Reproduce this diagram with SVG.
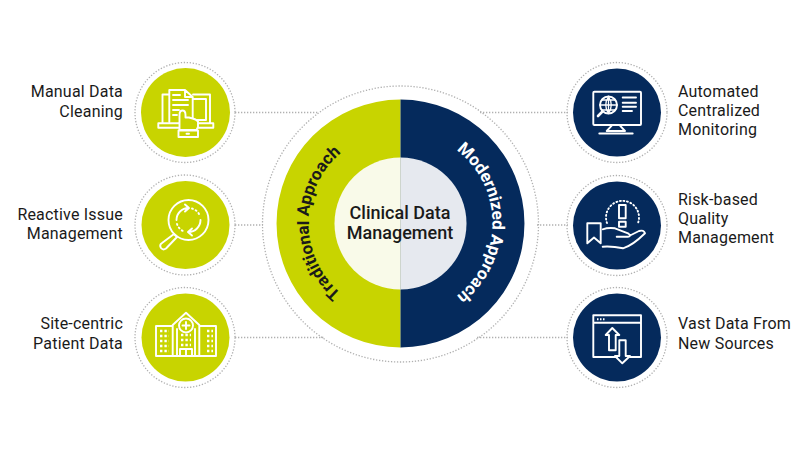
<svg xmlns="http://www.w3.org/2000/svg" width="800" height="450" viewBox="0 0 800 450">
<style>
text{font-family:Roboto,"Liberation Sans",Arial,sans-serif;fill:#1a1a1a}
.lbl{font-size:16px;letter-spacing:.2px}
.e{text-anchor:end}
.dot{fill:none;stroke:#b0b0b0;stroke-width:1.300;stroke-dasharray:1.300 1.700}
.ic{fill:none;stroke:#fff;stroke-width:1.900;stroke-linejoin:round;stroke-linecap:round}
.g{fill:#c8d400}.n{fill:#052a5c}
.arc{font-size:17px;font-weight:700;text-anchor:middle}
.c{font-size:18px;font-weight:500;text-anchor:middle}
</style>
<defs>
<path id="arcL" d="M400.500 315A92 92 0 0 1 400.500 131"/>
<path id="arcR" d="M400.500 131A92 92 0 0 1 400.500 315"/>
</defs>
<rect width="800" height="450" fill="#fff"/>
<g id="connectors" class="dot">
<path d="M235 112.500H318M235 225H263M235 337.500H325M480 112.500H568M537 225H568M477 337.500H568"/>
</g>
<g id="center">
<circle class="dot" cx="400.500" cy="224" r="138"/>
<path class="g" d="M400.500 99.500A124 124 0 0 0 400.500 347.500Z"/>
<path class="n" d="M400.500 99.500A124 124 0 0 1 400.500 347.500Z"/>
<path fill="#f9fae9" d="M400.500 157.500A66 66 0 0 0 400.500 289.500Z"/>
<path fill="#e6e9ef" d="M400.500 157.500A66 66 0 0 1 400.500 289.500Z"/>
<text class="arc"><textPath href="#arcL" startOffset="50%">Traditional Approach</textPath></text>
<text class="arc" style="fill:#fff"><textPath href="#arcR" startOffset="50%">Modernized Approach</textPath></text>
<text class="c" x="400" y="218.500">Clinical Data</text>
<text class="c" x="400" y="238.500">Management</text>
</g>
<g id="manual-data-cleaning">
<circle class="dot" cx="185" cy="112.500" r="50"/><circle class="g" cx="185.500" cy="112.500" r="44.500"/>
<g class="ic">
<path d="M169 94.500H162.500V123M193 94.500H210V123M158.300 123.300H213.300V127.700H158.300ZM193 99H206V120H193"/>
<path d="M169.300 122V90H185L192.700 97V122M185 90V97H192.700M173 95H180M173 100H188M173 105H188M173 110H179M173 115H177"/>
<path class="g" d="M179.500 130V115Q179.500 110.500 182.500 110.500T185.500 115V117.500L189 117.500 192.500 118.500 195.500 119.500 198 121.500V127L196.500 130Z"/>
<path d="M178.500 130.500H198V137H178.500ZM186.500 133.800H189"/>
</g>
<text class="lbl e" x="123" y="97">Manual Data</text>
<text class="lbl e" x="123" y="117">Cleaning</text>
</g>
<g id="reactive-issue-management">
<circle class="dot" cx="185" cy="225" r="50"/><circle class="g" cx="185.500" cy="225" r="44"/>
<g class="ic">
<circle cx="188.500" cy="220" r="20"/>
<path d="M174 234 177 237 166 248.500Q163 250.500 161 248 159 245 162 243Z"/>
<path d="M176.500 220A12 12 0 0 1 188.500 208M185 204.500 189 208 185 211.500M200.500 220A12 12 0 0 1 188.500 232M192 228.500 188 232 192 235.500"/>
<path stroke-dasharray="1 3" d="M192 208.500A12 12 0 0 1 200 216M177 224A12 12 0 0 0 184 231.500"/>
</g>
<text class="lbl e" x="123" y="220">Reactive Issue</text>
<text class="lbl e" x="123" y="239">Management</text>
</g>
<g id="site-centric-patient-data">
<circle class="dot" cx="185" cy="337.500" r="50"/><circle class="g" cx="185.500" cy="337.500" r="44"/>
<g class="ic">
<path d="M156 356H216M156 356V326H172.700M216 356V326H199.300M172.700 356V325L186 312.700 199.300 325V356"/>
<path d="M177 356V329M195 356V329"/>
<circle cx="186" cy="325.500" r="7"/><path d="M186 322V329M182.500 325.500H189.500M180 356V349H192V356M186 349V356"/>
<path stroke-width="2.400" stroke-dasharray="2.400 2" stroke-linecap="butt" d="M160 331H169M160 336H169M160 341H169M160 346H169M160 351H169M207 331H213M207 336H213M207 341H213M207 346H213M207 351H213M181 335H191M181 340H191M181 345H191"/>
</g>
<text class="lbl e" x="123" y="329">Site-centric</text>
<text class="lbl e" x="123" y="349">Patient Data</text>
</g>
<g id="automated-centralized-monitoring">
<circle class="dot" cx="617" cy="112.500" r="50"/><circle class="n" cx="617" cy="112.500" r="44"/>
<g class="ic">
<rect x="593.300" y="91.700" width="47.700" height="33.300" rx="1"/>
<path d="M611.700 125.700 606.700 131H625L620 125.700M599.300 133.500H632.700"/>
<circle cx="608.500" cy="105" r="8.500"/>
<path stroke-width="1.300" d="M600 105H617M608.500 96.500V113.500M602 100H615M602 110H615M608.500 96.500Q603 105 608.500 113.500Q614 105 608.500 96.500"/>
<path stroke-width="2.600" d="M602.500 111.500 598 116"/>
<path d="M622.700 97.500H636M622.700 102.700H636M622.700 106.700H636M622.700 111H632"/>
</g>
<text class="lbl" x="678" y="97">Automated</text>
<text class="lbl" x="678" y="116">Centralized</text>
<text class="lbl" x="678" y="135">Monitoring</text>
</g>
<g id="risk-based-quality-management">
<circle class="dot" cx="617" cy="225.500" r="50"/><circle class="n" cx="617" cy="225.500" r="44"/>
<g class="ic">
<path stroke-dasharray="1 2.600" d="M607 223A16.500 16.500 0 1 1 638 223"/>
<path d="M619 205H625.700V218.300H619ZM619 221.700H625.700V226.700H619Z"/>
<path d="M587.300 223.300H600.700V243.300L594 237.500 587.300 243.300Z"/>
<path d="M602.700 229.300Q608 227.500 615 228.300L628 233.300Q632 236.500 628 236.700H616.700M602.700 246.700Q612 246 623 248.300 632 246 645 233.300 644 229.500 639 231L630 235.500"/>
</g>
<text class="lbl" x="678" y="205">Risk-based</text>
<text class="lbl" x="678" y="224">Quality</text>
<text class="lbl" x="678" y="243">Management</text>
</g>
<g id="vast-data-from-new-sources">
<circle class="dot" cx="617" cy="337.500" r="50"/><circle class="n" cx="617" cy="337.500" r="44"/>
<g class="ic">
<path d="M617 357H593.300V315.300H641V357H630M593.300 322.700H641"/>
<path stroke-dasharray="1.500 1.500" stroke-linecap="butt" stroke-width="2" d="M597 319.200H606"/>
<path d="M612.300 328 605.700 335H609V350.300H615.700V335H619.300Z"/>
<path d="M619.300 340.300H625.700V356H630L622.300 363.300 615 356H619.300Z"/>
</g>
<text class="lbl" x="678" y="329">Vast Data From</text>
<text class="lbl" x="678" y="349">New Sources</text>
</g>
</svg>
